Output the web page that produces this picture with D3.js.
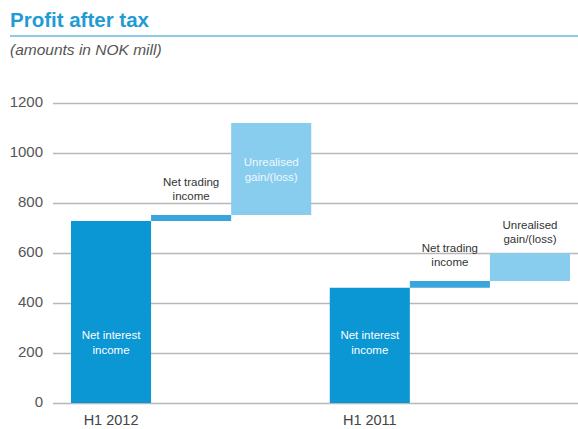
<!DOCTYPE html>
<html>
<head>
<meta charset="utf-8">
<script src="https://cdn.jsdelivr.net/npm/d3@7"></script>
<style>
  body { margin: 0; background: #fff; }
  text { font-family: "Liberation Sans", Arial, sans-serif; }
</style>
</head>
<body>
<script>
(function() {

    const width = 578;
    const height = 429;

    // data (NOK mill)
    const periods = ["H1 2012", "H1 2011"];
    const components = ["nii", "trading", "unrealised"];
    const componentLabels = [["Net interest", "income"], ["Net trading", "income"], ["Unrealised", "gain/(loss)"]];
    const values2012 = [728, 24, 368];
    const values2011 = [461, 27, 111];
    const yTicks = [0, 200, 400, 600, 800, 1000, 1200];

    const colors = ["#0b96d4", "#3aa5dc", "#88cdee"];

    const svg = d3.select("body").append("svg")
        .attr("width", width)
        .attr("height", height);

    // title
    svg.append("text")
        .attr("x", 10)
        .attr("y", 27)
        .style("font-size", "20.5px")
        .style("font-weight", "bold")
        .style("fill", "#1f9bd5")
        .text("Profit after tax");

    svg.append("line")
        .attr("x1", 10).attr("x2", width)
        .attr("y1", 36).attr("y2", 36)
        .style("stroke", "#8ccde6")
        .style("stroke-width", 2);

    svg.append("text")
        .attr("x", 10)
        .attr("y", 55)
        .style("font-size", "15.5px")
        .style("font-style", "italic")
        .style("fill", "#555")
        .text("(amounts in NOK mill)");

    let y = d3.scaleLinear()
        .domain([0, 1200])
        .range([403, 103]);

    let x = d3.scaleBand()
        .domain(periods)
        .range([71, 570])
        .paddingInner(0.0716)
        .paddingOuter(0);

    let xInner = d3.scaleBand()
        .domain(components)
        .range([0, x.bandwidth()])
        .padding(0);

    // gridlines + tick labels
    let grid = svg.append("g")
        .attr("transform", "translate(53,0)")
        .call(d3.axisLeft(y).tickValues(yTicks).tickSize(-(width - 53)).tickPadding(10).tickFormat(d3.format("d")));
    grid.select(".domain").remove();
    grid.selectAll(".tick line")
        .style("stroke", "#b8b8b8")
        .style("stroke-width", 1.5);
    grid.selectAll(".tick text")
        .style("font-size", "15px")
        .style("fill", "#555")
        .attr("dy", "0.2em");

    // build waterfall steps
    let rows = [];
    [values2012, values2011].forEach(function(vals, p) {
        let base = 0;
        vals.forEach(function(v, i) {
            rows.push({ period: periods[p], comp: components[i], idx: i, y0: base, y1: base + v });
            base += v;
        });
    });

    svg.selectAll("rect.bar")
        .data(rows)
        .enter()
        .append("rect")
        .attr("class", "bar")
        .attr("x", function(d) { return x(d.period) + xInner(d.comp); })
        .attr("width", xInner.bandwidth())
        .attr("y", function(d) { return y(d.y1); })
        .attr("height", function(d) { return y(d.y0) - y(d.y1); })
        .style("fill", function(d) { return colors[d.idx]; });

    // bar labels
    const lineH = 14.5;
    rows.forEach(function(d) {
        let cx = x(d.period) + xInner(d.comp) + xInner.bandwidth() / 2;
        let top = y(d.y1);
        let h = y(d.y0) - y(d.y1);
        let lines = componentLabels[d.idx];
        let firstBase, fill;
        if (d.idx === 0) {
            firstBase = y(255);
            fill = "#fff";
        } else if (h > 60) {
            firstBase = top + h / 2 - 3;
            fill = "#eef8fd";
        } else {
            let gap = d.idx === 1 ? 15 : 10;
            firstBase = top - gap - lineH;
            fill = "#333";
        }
        let t = svg.append("text")
            .attr("text-anchor", "middle")
            .style("font-size", "11.5px")
            .style("fill", fill);
        lines.forEach(function(s, k) {
            t.append("tspan")
                .attr("x", cx)
                .attr("y", firstBase + k * lineH)
                .text(s);
        });
    });

    // period labels
    svg.selectAll("text.period")
        .data(periods)
        .enter()
        .append("text")
        .attr("class", "period")
        .attr("x", function(d) { return x(d) + xInner("nii") + xInner.bandwidth() / 2; })
        .attr("y", 425)
        .attr("text-anchor", "middle")
        .style("font-size", "14.5px")
        .style("fill", "#444")
        .text(function(d) { return d; });

})();
</script>
</body>
</html>
